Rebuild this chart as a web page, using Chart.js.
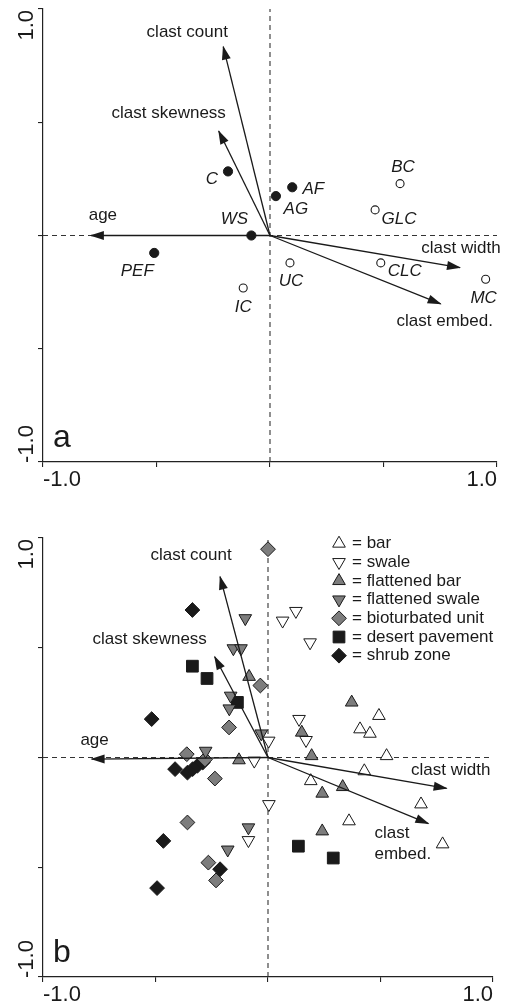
<!DOCTYPE html>
<html>
<head>
<meta charset="utf-8">
<script src="https://cdn.jsdelivr.net/npm/chart.js@4.4.1/dist/chart.umd.min.js"></script>
<style>
body { margin: 0; background: #fff; width: 507px; height: 1005px; position: relative; overflow: hidden; }
canvas { position: absolute; left: 0; }
#chartA { top: 0; }
#chartB { top: 500px; }
</style>
</head>
<body>
<canvas id="chartA" width="507" height="495"></canvas>
<canvas id="chartB" width="507" height="505"></canvas>
<script>
// axis ticks
var tickValues = [-1, -0.5, 0, 0.5, 1];
var tickTexts = ['-1.0', '', '', '', '1.0'];

// environmental vectors
var vectorNames = ['clast count', 'clast skewness', 'age', 'clast width', 'clast embed.'];
var vectorAX = [-0.206, -0.226, -0.789, 0.837, 0.752];
var vectorAY = [0.834, 0.461, 0.0, -0.142, -0.302];
var vectorBX = [-0.213, -0.237, -0.784, 0.794, 0.713];
var vectorBY = [0.824, 0.459, -0.007, -0.141, -0.301];

// panel a: site scores
var filledSites = ['C', 'AF', 'AG', 'WS', 'PEF'];
var filledX = [-0.185, 0.098, 0.026, -0.082, -0.51];
var filledY = [0.283, 0.213, 0.174, 0.0, -0.077];
var openSites = ['BC', 'GLC', 'UC', 'CLC', 'IC', 'MC'];
var openX = [0.573, 0.463, 0.088, 0.488, -0.118, 0.95];
var openY = [0.229, 0.113, -0.121, -0.121, -0.232, -0.193];

// panel b: plot scores by group
var groupNames = ['bar', 'swale', 'flattened bar', 'flattened swale', 'bioturbated unit', 'desert pavement', 'shrub zone'];
var barX = [0.493, 0.409, 0.453, 0.527, 0.428, 0.19, 0.68, 0.36, 0.776];
var barY = [0.19, 0.129, 0.109, 0.007, -0.062, -0.107, -0.213, -0.29, -0.395];
var swaleX = [0.065, 0.124, 0.187, 0.138, 0.169, 0.003, -0.061, 0.004, -0.087];
var swaleY = [0.623, 0.667, 0.524, 0.175, 0.079, 0.076, -0.015, -0.213, -0.377];
var flatBarX = [0.372, -0.084, 0.15, -0.129, 0.194, 0.332, 0.241, 0.241];
var flatBarY = [0.251, 0.368, 0.114, -0.012, 0.007, -0.134, -0.164, -0.336];
var flatSwaleX = [-0.101, -0.154, -0.12, -0.166, -0.172, -0.03, -0.277, -0.087, -0.179];
var flatSwaleY = [0.634, 0.497, 0.497, 0.281, 0.223, 0.109, 0.03, -0.319, -0.42];
var bioX = [0.0, -0.034, -0.173, -0.361, -0.28, -0.236, -0.358, -0.265, -0.231];
var bioY = [0.949, 0.328, 0.137, 0.015, -0.009, -0.096, -0.296, -0.479, -0.56];
var paveX = [-0.336, -0.271, -0.136, 0.135, 0.29];
var paveY = [0.416, 0.36, 0.251, -0.404, -0.458];
var shrubX = [-0.336, -0.517, -0.413, -0.358, -0.335, -0.314, -0.29, -0.465, -0.213, -0.493];
var shrubY = [0.672, 0.175, -0.053, -0.069, -0.053, -0.038, -0.023, -0.38, -0.509, -0.595];

// label placement (pixel offsets from the mark)
var siteOffsets = { C: [-16, 8], AF: [21, 2], AG: [20, 13], WS: [-17, -16], PEF: [-17, 18],
    BC: [3, -16], GLC: [24, 9], UC: [1, 18], CLC: [24, 8], IC: [0, 19], MC: [-2, 19] };
var vectorOffsetsA = [[-36, -14], [-50, -18], [12, -20], [1, -19], [4, 17]];
var vectorOffsetsB = [[-29, -21], [-65, -17], [3, -19], [4, -18], [-54, 10]];

var INK = '#1a1a1a';
var GREY = '#7d7d7d';
var FONT = '"Liberation Sans", Arial, sans-serif';

function pts(xs, ys) {
    return xs.map(function (x, i) { return { x: x, y: ys[i] }; });
}

function refLines() {
    var base = { showLine: true, borderColor: '#333', borderWidth: 1.1, borderDash: [5, 4], pointRadius: 0, order: 5 };
    return [
        Object.assign({ data: [{ x: -1, y: 0 }, { x: 1, y: 0 }] }, base),
        Object.assign({ data: [{ x: 0, y: -1 }, { x: 0, y: 1 }] }, base)
    ];
}

function vectorSets(xs, ys) {
    return xs.map(function (x, i) {
        return {
            data: [{ x: 0, y: 0 }, { x: x, y: ys[i] }],
            showLine: true, borderColor: INK, borderWidth: 1.3, pointRadius: 0,
            order: 1, isVector: true, vectorIndex: i
        };
    });
}

function markerSet(data, style) {
    return Object.assign({
        data: data, showLine: false, order: 2, pointBorderWidth: 1,
        pointBorderColor: INK, pointHoverRadius: 0
    }, style);
}

function drawText(ctx, text, x, y, align, font) {
    ctx.font = font;
    ctx.textAlign = align;
    ctx.textBaseline = 'middle';
    var lines = Array.isArray(text) ? text : [text];
    lines.forEach(function (t, k) { ctx.fillText(t, x, y + k * 21); });
}

function makeOverlay(cfg) {
    return {
        id: 'overlay' + cfg.letter,
        afterDatasetsDraw: function (chart) {
            var ctx = chart.ctx;
            ctx.save();
            ctx.fillStyle = INK;
            chart.data.datasets.forEach(function (ds, i) {
                var meta = chart.getDatasetMeta(i);
                if (ds.isVector) {
                    var p0 = meta.data[0], p1 = meta.data[1];
                    var ang = Math.atan2(p1.y - p0.y, p1.x - p0.x);
                    ctx.save();
                    ctx.translate(p1.x, p1.y);
                    ctx.rotate(ang);
                    ctx.beginPath();
                    ctx.moveTo(1, 0);
                    ctx.lineTo(-13, -4.5);
                    ctx.lineTo(-13, 4.5);
                    ctx.closePath();
                    ctx.fill();
                    ctx.restore();
                    var off = cfg.vectorOffsets[ds.vectorIndex];
                    var txt = cfg.vectorLabels[ds.vectorIndex];
                    drawText(ctx, txt, p1.x + off[0], p1.y + off[1], Array.isArray(txt) ? 'left' : 'center', '17px ' + FONT);
                }
                if (ds.siteNames) {
                    meta.data.forEach(function (el, k) {
                        var name = ds.siteNames[k];
                        var o = siteOffsets[name];
                        drawText(ctx, name, el.x + o[0], el.y + o[1], 'center', 'italic 17px ' + FONT);
                    });
                }
            });
            ctx.restore();
        },
        afterDraw: function (chart) {
            var ctx = chart.ctx, area = chart.chartArea, ys = chart.scales.y;
            ctx.save();
            ctx.fillStyle = INK;
            // rotated y tick labels
            tickValues.forEach(function (v, k) {
                if (!tickTexts[k]) return;
                var py = ys.getPixelForValue(v);
                ctx.save();
                ctx.translate(27, py + 1);
                ctx.rotate(-Math.PI / 2);
                ctx.font = '22px ' + FONT;
                ctx.textAlign = v > 0 ? 'right' : 'left';
                ctx.textBaseline = 'middle';
                ctx.fillText(tickTexts[k], 0, 0);
                ctx.restore();
            });
            // panel letter
            ctx.font = '32px ' + FONT;
            ctx.textAlign = 'left';
            ctx.textBaseline = 'alphabetic';
            ctx.fillText(cfg.letter, area.left + 10, area.bottom - 15);
            // legend
            if (cfg.legend) {
                var sx = area.right - 154, tx = area.right - 141;
                chart.data.datasets.filter(function (d) { return d.groupIndex !== undefined; })
                    .forEach(function (d) {
                        var y = area.top + 5.5 + d.groupIndex * 18.7;
                        ctx.fillStyle = d.pointBackgroundColor;
                        ctx.strokeStyle = d.pointBorderColor;
                        ctx.lineWidth = d.pointBorderWidth;
                        Chart.helpers.drawPoint(ctx, {
                            pointStyle: d.pointStyle, radius: d.pointRadius,
                            rotation: d.pointRotation || 0, borderWidth: d.pointBorderWidth
                        }, sx, y);
                        ctx.fillStyle = INK;
                        drawText(ctx, '= ' + groupNames[d.groupIndex], tx, y, 'left', '17px ' + FONT);
                    });
            }
            ctx.restore();
        }
    };
}

function makeOptions(padTop, padRight, xHeight) {
    var axisBase = {
        type: 'linear', min: -1, max: 1,
        afterBuildTicks: function (s) { s.ticks = tickValues.map(function (v) { return { value: v }; }); },
        border: { display: true, color: '#222', width: 1.2 },
        grid: { drawOnChartArea: false, drawTicks: true, tickLength: 5, color: '#222', lineWidth: 1.1 }
    };
    return {
        responsive: false,
        animation: false,
        events: [],
        layout: { padding: { top: padTop, right: padRight, left: 0, bottom: 0 } },
        plugins: { legend: { display: false }, tooltip: { enabled: false } },
        scales: {
            x: Object.assign({}, axisBase, {
                position: 'bottom',
                afterFit: function (s) { s.height = xHeight; },
                ticks: {
                    align: 'inner', padding: 0, color: INK, autoSkip: false, maxRotation: 0,
                    font: { family: FONT, size: 22 },
                    callback: function (v, i) { return tickTexts[i]; }
                }
            }),
            y: Object.assign({}, axisBase, {
                position: 'left',
                afterFit: function (s) { s.width = 43; },
                ticks: { display: false }
            })
        }
    };
}

// panel a
var setsA = refLines()
    .concat(vectorSets(vectorAX, vectorAY))
    .concat([
        markerSet(pts(filledX, filledY), { siteNames: filledSites, pointStyle: 'circle', pointRadius: 4.6, pointBackgroundColor: INK }),
        markerSet(pts(openX, openY), { siteNames: openSites, pointStyle: 'circle', pointRadius: 4, pointBackgroundColor: '#fff', pointBorderWidth: 1.1 })
    ]);

new Chart(document.getElementById('chartA'), {
    type: 'scatter',
    data: { datasets: setsA },
    options: makeOptions(9, 10, 33),
    plugins: [makeOverlay({ letter: 'a', vectorLabels: vectorNames, vectorOffsets: vectorOffsetsA, legend: false })]
});

// panel b
var groupSets = [
    markerSet(pts(barX, barY), { groupIndex: 0, pointStyle: 'triangle', pointRadius: 7.3, pointBackgroundColor: '#fff' }),
    markerSet(pts(swaleX, swaleY), { groupIndex: 1, pointStyle: 'triangle', pointRotation: 180, pointRadius: 7.3, pointBackgroundColor: '#fff' }),
    markerSet(pts(flatBarX, flatBarY), { groupIndex: 2, pointStyle: 'triangle', pointRadius: 7.3, pointBackgroundColor: GREY }),
    markerSet(pts(flatSwaleX, flatSwaleY), { groupIndex: 3, pointStyle: 'triangle', pointRotation: 180, pointRadius: 7.3, pointBackgroundColor: GREY }),
    markerSet(pts(bioX, bioY), { groupIndex: 4, pointStyle: 'rectRot', pointRadius: 7.4, pointBackgroundColor: GREY }),
    markerSet(pts(paveX, paveY), { groupIndex: 5, pointStyle: 'rect', pointRadius: 8.3, pointBackgroundColor: INK }),
    markerSet(pts(shrubX, shrubY), { groupIndex: 6, pointStyle: 'rectRot', pointRadius: 7.4, pointBackgroundColor: INK })
];
var vectorLabelsB = vectorNames.slice(0, 4).concat([['clast', 'embed.']]);

new Chart(document.getElementById('chartB'), {
    type: 'scatter',
    data: { datasets: refLines().concat(vectorSets(vectorBX, vectorBY)).concat(groupSets) },
    options: makeOptions(38, 14, 28),
    plugins: [makeOverlay({ letter: 'b', vectorLabels: vectorLabelsB, vectorOffsets: vectorOffsetsB, legend: true })]
});
</script>
</body>
</html>
